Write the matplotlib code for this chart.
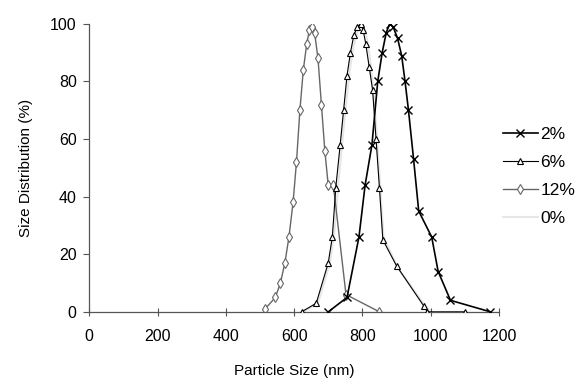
import matplotlib
matplotlib.use('Agg')
import matplotlib.pyplot as plt

plt.rcParams['font.family'] = ['Liberation Sans', 'DejaVu Sans']

# 2% sample
size_2 = [700, 755, 790, 808, 828, 845, 858, 870, 880, 890, 903, 915, 925, 935, 950, 965, 1003, 1022, 1058, 1175]
dist_2 = [0, 5, 26, 44, 58, 80, 90, 97, 100, 99, 95, 89, 80, 70, 53, 35, 26, 14, 4, 0]

# 6% sample
size_6 = [622, 665, 700, 712, 722, 735, 745, 755, 765, 775, 785, 795, 802, 810, 820, 830, 840, 850, 860, 900, 980, 990, 1100]
dist_6 = [0, 3, 17, 26, 43, 58, 70, 82, 90, 96, 99, 100, 98, 93, 85, 77, 60, 43, 25, 16, 2, 0, 0]

# 12% sample
size_12 = [515, 545, 560, 573, 585, 597, 607, 617, 627, 637, 645, 652, 660, 670, 680, 690, 700, 715, 752, 850]
dist_12 = [1, 5, 10, 17, 26, 38, 52, 70, 84, 93, 98, 99, 97, 88, 72, 56, 44, 44, 6, 0]

# 0% sample (very faint)
size_0 = [625, 670, 705, 718, 730, 742, 752, 762, 772, 782, 792, 800, 810, 820, 830, 842, 852, 862, 905, 985, 1000]
dist_0 = [0, 3, 17, 28, 45, 60, 72, 83, 91, 96, 99, 100, 97, 90, 80, 62, 44, 26, 15, 2, 0]

fig = plt.figure(figsize=(5.87, 3.85), dpi=100)
ax = fig.add_axes([0.152, 0.19, 0.698, 0.748])

ax.plot(size_0, dist_0, color='#e6e6e6', lw=1.5, label='0%', zorder=1)
ax.plot(size_2, dist_2, color='black', lw=1.2, marker='x', ms=5.5, mew=1, label='2%', zorder=3)
ax.plot(size_6, dist_6, color='black', lw=0.8, marker='^', ms=5, mfc='white', mec='black', mew=0.8, label='6%', zorder=3)
ax.plot(size_12, dist_12, color='#666666', lw=1, marker='d', ms=5, mfc='white', mec='#666666', mew=0.8, label='12%', zorder=2)

ax.set_xlim(0, 1200)
ax.set_ylim(0, 100)
ax.set_xticks(range(0, 1201, 200))
ax.set_yticks(range(0, 101, 20))
ax.spines['top'].set_visible(False)
ax.spines['right'].set_visible(False)
for s in ['left', 'bottom']:
    ax.spines[s].set_color('#555555')
    ax.spines[s].set_linewidth(0.9)
ax.tick_params(axis='x', direction='inout', length=6, color='#555555', labelsize=11.5, pad=9)
ax.tick_params(axis='y', direction='out', length=4, color='#555555', labelsize=11.5, pad=5)
ax.set_xlabel('Particle Size (nm)', fontsize=11, labelpad=15)
ax.set_ylabel('Size Distribution (%)', fontsize=11, labelpad=12)

h, l = ax.get_legend_handles_labels()
order = [1, 2, 3, 0]
ax.legend([h[i] for i in order], [l[i] for i in order], loc='center left', bbox_to_anchor=(1.01, 0.47),
          frameon=False, fontsize=12.5, handlelength=2.0, handletextpad=0.15, labelspacing=0.75,
          borderpad=0, borderaxespad=0)

fig.savefig('out.png')
